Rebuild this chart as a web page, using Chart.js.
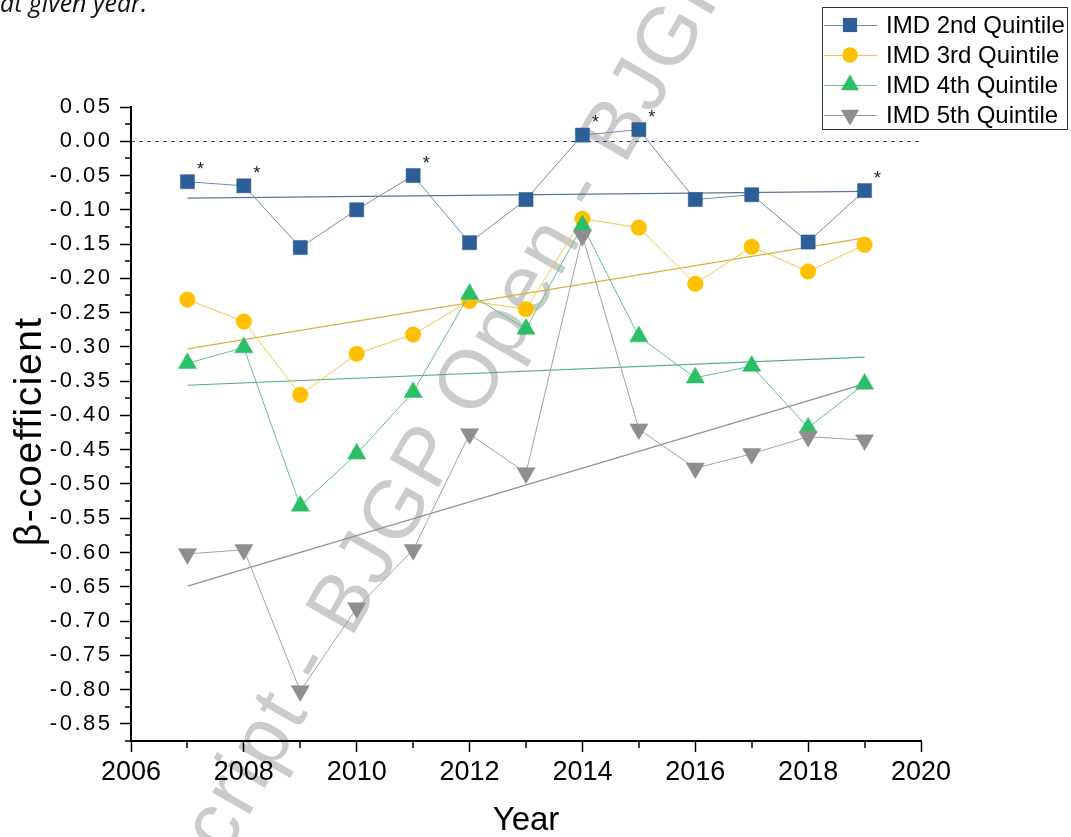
<!DOCTYPE html>
<html>
<head>
<meta charset="utf-8">
<script src="https://cdn.jsdelivr.net/npm/chart.js@4.4.1/dist/chart.umd.min.js"></script>
<style>
  html, body { margin: 0; padding: 0; background: #fff; }
  #wrap { position: relative; width: 1071px; height: 837px; overflow: hidden; }
  #caption {
    position: absolute; left: 0; top: -10px;
    font-family: 'Open Sans', sans-serif; font-style: italic; font-size: 25px;
    line-height: 25px; color: #111; white-space: nowrap;
  }
  canvas { position: absolute; left: 0; top: 0; }
</style>
</head>
<body>
<div id="wrap">
  <canvas id="chart" width="1071" height="837"></canvas>
  <div id="caption">at given year.</div>
</div>
<script>
// values
const years = [2007, 2008, 2009, 2010, 2011, 2012, 2013, 2014, 2015, 2016, 2017, 2018, 2019];
const q2 = [-0.059, -0.065, -0.155, -0.100, -0.050, -0.148, -0.085, 0.009, 0.017, -0.085, -0.078, -0.147, -0.072];
const q3 = [-0.231, -0.263, -0.370, -0.310, -0.282, -0.233, -0.245, -0.113, -0.126, -0.208, -0.154, -0.190, -0.151];
const q4 = [-0.324, -0.301, -0.532, -0.456, -0.366, -0.223, -0.274, -0.123, -0.285, -0.345, -0.328, -0.418, -0.354];
const q5 = [-0.602, -0.596, -0.802, -0.681, -0.596, -0.427, -0.484, -0.138, -0.420, -0.477, -0.456, -0.431, -0.436];
// significance stars on the 2nd quintile
const q2Star = [true, true, false, false, true, false, false, true, true, false, false, false, true];

// fitted trend lines, end points
const trendYears = [2007, 2019];
const t2 = [-0.083, -0.073];
const t3 = [-0.303, -0.141];
const t4 = [-0.356, -0.315];
const t5 = [-0.649, -0.354];

const seriesNames = ['IMD 2nd Quintile', 'IMD 3rd Quintile', 'IMD 4th Quintile', 'IMD 5th Quintile'];
const xTicks = [2006, 2008, 2010, 2012, 2014, 2016, 2018, 2020];
const yTicks = [0.05, 0, -0.05, -0.10, -0.15, -0.20, -0.25, -0.30, -0.35, -0.40, -0.45, -0.50,
                -0.55, -0.60, -0.65, -0.70, -0.75, -0.80, -0.85];

const markerColors = ['#2E5E97', '#FFC000', '#2DBE68', '#8E8E8E'];
const lineColors = ['#7189AE', '#F0C64E', '#62C18A', '#A2A2A2'];
const trendColors = ['#5A7398', '#D8AE45', '#52B07C', '#929292'];
const markerStyles = [
  { style: 'rect', radius: 10, rotation: 0 },
  { style: 'circle', radius: 7.8, rotation: 0 },
  { style: 'triangle', radius: 10.5, rotation: 0 },
  { style: 'triangle', radius: 10.5, rotation: 180 }
];

const FONT = "'Liberation Sans', Arial, sans-serif";
Chart.defaults.font.family = FONT;
Chart.defaults.color = '#000';

function pts(xs, ys) { return xs.map((x, i) => ({ x: x, y: ys[i] })); }

const series = [q2, q3, q4, q5];
const trends = [t2, t3, t4, t5];

const datasets = [];
series.forEach((s, i) => {
  datasets.push({
    label: seriesNames[i],
    data: pts(years, s),
    borderColor: lineColors[i],
    borderWidth: 1,
    pointStyle: markerStyles[i].style,
    pointRadius: markerStyles[i].radius,
    pointRotation: markerStyles[i].rotation,
    pointBackgroundColor: markerColors[i],
    pointBorderColor: markerColors[i],
    pointBorderWidth: 0.5,
    tension: 0,
    order: 4 - i
  });
});
trends.forEach((t, i) => {
  datasets.push({
    label: seriesNames[i] + ' fit',
    data: pts(trendYears, t),
    borderColor: trendColors[i],
    borderWidth: 1.2,
    pointRadius: 0,
    tension: 0,
    order: 10
  });
});

function drawMarker(ctx, m, color, x, y) {
  ctx.fillStyle = color;
  ctx.beginPath();
  if (m.style === 'rect') {
    const h = m.radius * Math.SQRT1_2;
    ctx.rect(x - h, y - h, 2 * h, 2 * h);
  } else if (m.style === 'circle') {
    ctx.arc(x, y, m.radius, 0, Math.PI * 2);
  } else {
    const r = m.radius, d = m.rotation ? -1 : 1;
    ctx.moveTo(x, y - d * r);
    ctx.lineTo(x + 0.866 * r, y + d * 0.5 * r);
    ctx.lineTo(x - 0.866 * r, y + d * 0.5 * r);
    ctx.closePath();
  }
  ctx.fill();
}

// text with letter spacing, right aligned / centred by hand
function spacedWidth(ctx, s, ls) { return ctx.measureText(s).width - ls; }

const watermark = {
  id: 'watermark',
  beforeDraw(chart) {
    const ctx = chart.ctx;
    ctx.save();
    ctx.translate(345, 604);
    ctx.rotate(-60 * Math.PI / 180);
    ctx.font = '82px ' + FONT;
    ctx.letterSpacing = '3px';
    ctx.textBaseline = 'middle';
    ctx.fillStyle = '#cbcbcb';
    const pre = ctx.measureText('Accepted Manuscript - ').width;
    const b = ctx.measureText('B').width - 3;
    ctx.fillText('Accepted Manuscript - BJGP Open - BJGP Open - BJGP Open', -pre - b / 2, 0);
    ctx.restore();
  }
};

const extras = {
  id: 'extras',
  beforeDatasetsDraw(chart) {
    const ctx = chart.ctx, a = chart.chartArea, ys = chart.scales.y;
    const y0 = Math.round(ys.getPixelForValue(0)) + 0.5;
    ctx.save();
    ctx.strokeStyle = '#444';
    ctx.lineWidth = 1;
    ctx.setLineDash([4, 4]);
    ctx.beginPath();
    ctx.moveTo(a.left, y0);
    ctx.lineTo(a.right, y0);
    ctx.stroke();
    ctx.restore();
  },
  afterDatasetsDraw(chart) {
    const ctx = chart.ctx;
    const meta = chart.getDatasetMeta(0);
    ctx.save();
    ctx.fillStyle = '#222';
    ctx.font = '18px ' + FONT;
    ctx.textAlign = 'center';
    ctx.textBaseline = 'middle';
    meta.data.forEach((p, i) => {
      if (q2Star[i]) ctx.fillText('*', p.x + 13, p.y - 12);
    });
    ctx.restore();
  },
  afterDraw(chart) {
    const ctx = chart.ctx, a = chart.chartArea;
    const xs = chart.scales.x, ys = chart.scales.y;
    ctx.save();
    // minor ticks
    ctx.strokeStyle = '#000';
    ctx.lineWidth = 1.5;
    ctx.beginPath();
    for (let i = 0; i < xTicks.length - 1; i++) {
      const px = Math.round(xs.getPixelForValue((xTicks[i] + xTicks[i + 1]) / 2));
      ctx.moveTo(px, a.bottom);
      ctx.lineTo(px, a.bottom + 7);
    }
    const yAll = [...yTicks, -0.90];
    for (let i = 0; i < yAll.length - 1; i++) {
      const py = Math.round(ys.getPixelForValue((yAll[i] + yAll[i + 1]) / 2));
      ctx.moveTo(a.left, py);
      ctx.lineTo(a.left - 6, py);
    }
    ctx.stroke();

    // y tick labels, letter-spaced like the original
    ctx.fillStyle = '#000';
    ctx.font = '22px ' + FONT;
    ctx.letterSpacing = '2.5px';
    ctx.textAlign = 'left';
    ctx.textBaseline = 'middle';
    ys.ticks.forEach(t => {
      const s = t.value.toFixed(2);
      const w = spacedWidth(ctx, s, 2.5);
      ctx.fillText(s, a.left - 21 - w, ys.getPixelForValue(t.value));
    });

    // y axis title
    ctx.save();
    ctx.translate(30, 432);
    ctx.rotate(-Math.PI / 2);
    ctx.font = '39px ' + FONT;
    ctx.letterSpacing = '1.5px';
    const tw = spacedWidth(ctx, 'β-coefficient', 1.5);
    ctx.fillText('β-coefficient', -tw / 2, 0);
    ctx.restore();
    ctx.letterSpacing = '0px';

    // legend
    const lx = 822.5, ly = 7.5, lw = 245, lh = 122;
    ctx.fillStyle = '#fff';
    ctx.fillRect(lx, ly, lw, lh);
    ctx.strokeStyle = '#333';
    ctx.lineWidth = 1;
    ctx.strokeRect(lx, ly, lw, lh);
    const rows = [25, 55, 85, 115];
    ctx.font = '24px ' + FONT;
    ctx.textBaseline = 'middle';
    ctx.textAlign = 'left';
    seriesNames.forEach((n, i) => {
      ctx.strokeStyle = lineColors[i];
      ctx.beginPath();
      ctx.moveTo(824, rows[i] + 0.5);
      ctx.lineTo(877, rows[i] + 0.5);
      ctx.stroke();
      drawMarker(ctx, markerStyles[i], markerColors[i], 850, rows[i]);
      ctx.fillStyle = '#000';
      ctx.fillText(n, 886, rows[i] + 1);
    });
    ctx.restore();
  }
};

new Chart(document.getElementById('chart'), {
  type: 'line',
  data: { datasets: datasets },
  plugins: [watermark, extras],
  options: {
    responsive: false,
    devicePixelRatio: 1,
    animation: false,
    layout: { padding: { top: 107, right: 150, left: 0, bottom: 0 } },
    plugins: { legend: { display: false }, tooltip: { enabled: false } },
    scales: {
      x: {
        type: 'linear',
        min: 2006,
        max: 2020,
        afterFit(s) { s.height = 96; },
        afterBuildTicks(s) { s.ticks = xTicks.map(v => ({ value: v })); },
        ticks: { callback: v => String(v), padding: 4, font: { size: 27 }, color: '#000', maxRotation: 0 },
        grid: { drawOnChartArea: false, tickLength: 11, tickColor: '#000', tickWidth: 1.5 },
        border: { color: '#000', width: 2 },
        title: { display: true, text: 'Year', font: { size: 33, lineHeight: 1 }, padding: { top: 0, bottom: 0 }, color: '#000' }
      },
      y: {
        min: -0.875,
        max: 0.05,
        afterFit(s) { s.width = 131; },
        afterBuildTicks(s) { s.ticks = yTicks.map(v => ({ value: v })); },
        // labels are painted by the extras plugin with letter spacing
        ticks: { callback: v => v.toFixed(2), padding: 9, font: { size: 22 }, color: 'rgba(0,0,0,0)' },
        grid: { drawOnChartArea: false, tickLength: 11, tickColor: '#000', tickWidth: 1.5 },
        border: { color: '#000', width: 2 }
      }
    }
  }
});
</script>
</body>
</html>
